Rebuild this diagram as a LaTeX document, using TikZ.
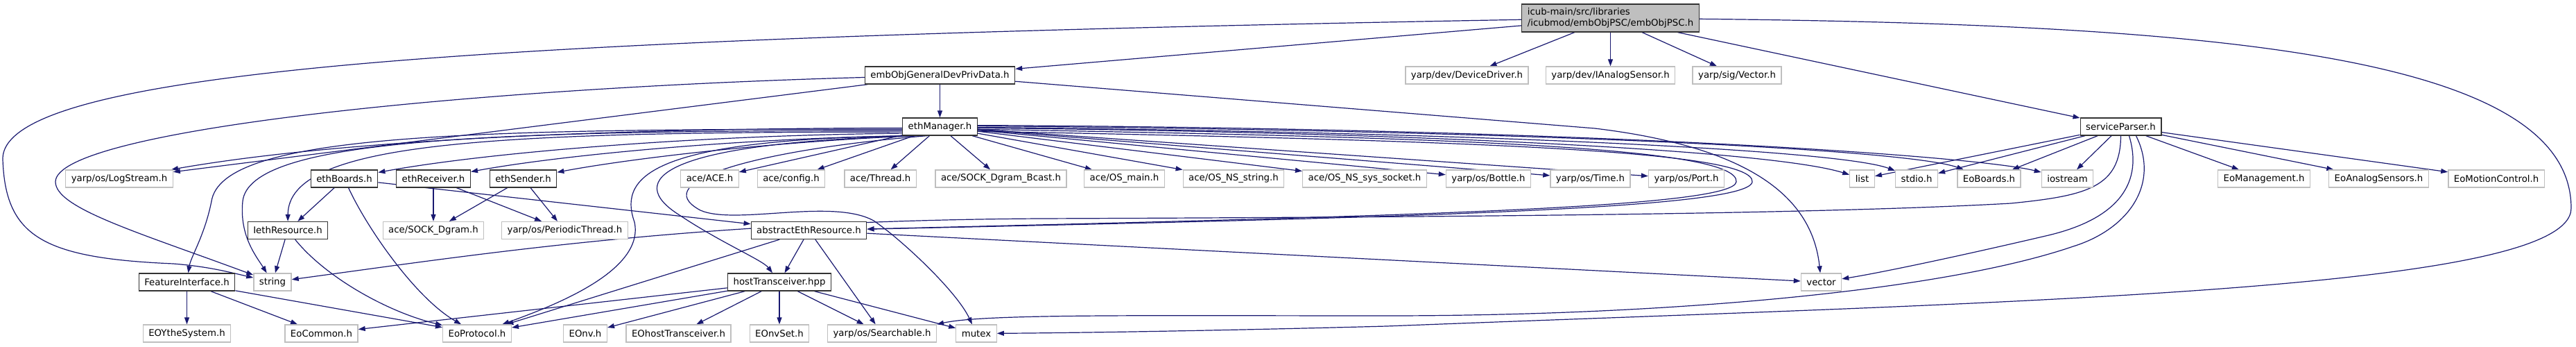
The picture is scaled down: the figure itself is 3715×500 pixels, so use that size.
\documentclass[tikz,border=0pt]{standalone}
\usepackage{fontspec}
\newfontfamily\dfont{DejaVu Sans}
\usetikzlibrary{arrows.meta,backgrounds,calc}
\definecolor{edgeblue}{HTML}{191970}
\definecolor{lgray}{HTML}{BFBFBF}
\definecolor{rootgray}{HTML}{BFBFBF}
\definecolor{docborder}{HTML}{333333}
\tikzset{
  basebox/.style={rectangle, line width=1.3pt, fill=white, minimum height=25pt,
    inner xsep=8pt, inner ysep=2pt, font=\dfont\fontsize{13.3}{15.5}\selectfont},
  doc/.style={basebox, draw=docborder},
  undoc/.style={basebox, draw=lgray},
  rootbox/.style={basebox, draw=docborder, fill=rootgray, align=left, minimum height=40pt},
  dep/.style={draw=edgeblue, line width=1.2pt, -{Triangle[length=10pt,width=7pt]}}
}
\begin{document}
\begin{tikzpicture}[x=1pt,y=-1pt]
\useasboundingbox (0,0) rectangle (3715,500);
% row 0
\node[rootbox] (root) at (2322.5,26) {icub-main/src/libraries\\/icubmod/embObjPSC/embObjPSC.h};
% row 1
\node[doc] (egd) at (1355.5,108.5) {embObjGeneralDevPrivData.h};
\node[undoc] (devdrv) at (2115.5,108.5) {yarp/dev/DeviceDriver.h};
\node[undoc] (ianalog) at (2322.5,108.5) {yarp/dev/IAnalogSensor.h};
\node[undoc] (sigvec) at (2505,108.5) {yarp/sig/Vector.h};
% row 2
\node[doc] (ethm) at (1355.5,182.5) {ethManager.h};
\node[doc] (sp) at (3058.5,182.5) {serviceParser.h};
% row 3
\node[undoc] (logstream) at (172,257.5) {yarp/os/LogStream.h};
\node[doc] (ethboards) at (496.5,257.5) {ethBoards.h};
\node[doc] (ethrecv) at (625,257.5) {ethReceiver.h};
\node[doc] (ethsend) at (754.5,257.5) {ethSender.h};
\node[undoc] (ace) at (1023.5,257.5) {ace/ACE.h};
\node[undoc] (config) at (1141,257.5) {ace/config.h};
\node[undoc] (thread) at (1269.5,257.5) {ace/Thread.h};
\node[undoc] (bcast) at (1443.5,257.5) {ace/SOCK\_Dgram\_Bcast.h};
\node[undoc] (osmain) at (1621.5,257.5) {ace/OS\_main.h};
\node[undoc] (osstring) at (1779,257.5) {ace/OS\_NS\_string.h};
\node[undoc] (ossocket) at (1968,257.5) {ace/OS\_NS\_sys\_socket.h};
\node[undoc] (bottle) at (2146.5,257.5) {yarp/os/Bottle.h};
\node[undoc] (time) at (2293.5,257.5) {yarp/os/Time.h};
\node[undoc] (port) at (2432,257.5) {yarp/os/Port.h};
\node[undoc] (list) at (2685.5,257.5) {list};
\node[undoc] (stdio) at (2764,257.5) {stdio.h};
\node[undoc] (eoboards) at (2868.5,257.5) {EoBoards.h};
\node[undoc] (iostream) at (2981.5,257.5) {iostream};
\node[undoc] (eomgmt) at (3265,257.5) {EoManagement.h};
\node[undoc] (eoanalog) at (3430.5,257.5) {EoAnalogSensors.h};
\node[undoc] (eomotion) at (3600,257.5) {EoMotionControl.h};
% row 4
\node[doc] (iethres) at (415,332) {IethResource.h};
\node[undoc] (sockdgram) at (625,332) {ace/SOCK\_Dgram.h};
\node[undoc] (periodic) at (814.5,332) {yarp/os/PeriodicThread.h};
\node[doc] (abseth) at (1166.5,332) {abstractEthResource.h};
% row 5
\node[doc] (featif) at (269.5,406.5) {FeatureInterface.h};
\node[undoc] (string) at (393,406.5) {string};
\node[doc] (hostt) at (1124,406.5) {hostTransceiver.hpp};
\node[undoc] (vector) at (2626.5,406.5) {vector};
% row 6
\node[undoc] (eoythe) at (269.5,480.5) {EOYtheSystem.h};
\node[undoc] (eocommon) at (463.5,480.5) {EoCommon.h};
\node[undoc] (eoproto) at (688,480.5) {EoProtocol.h};
\node[undoc] (eonv) at (844,480.5) {EOnv.h};
\node[undoc] (eohostt) at (978.5,480.5) {EOhostTransceiver.h};
\node[undoc] (eonvset) at (1124,480.5) {EOnvSet.h};
\node[undoc] (searchable) at (1272,480.5) {yarp/os/Searchable.h};
\node[undoc] (mutex) at (1408,480.5) {mutex};

\begin{pgfonlayer}{background}
% root
\draw[dep] (root) -- (egd);
\draw[dep] (root) -- (devdrv);
\draw[dep] (root) -- (ianalog);
\draw[dep] (root) -- (sigvec);
\draw[dep] (root) -- (sp);
\draw[dep] (root) .. controls (700,55) and (0,100) .. (4,230) .. controls (8,340) and (60,372) .. (250,380) .. controls (300,384) and (330,392) .. (string);
\draw[dep] (root) .. controls (3200,35) and (3708,80) .. (3708,300) .. controls (3708,420) and (2900,435) .. (2000,470) .. controls (1700,478) and (1500,480) .. (mutex);
% embObjGeneralDevPrivData
\draw[dep] (egd) -- (ethm);
\draw[dep] (egd) -- (logstream);
\draw[dep] (egd) .. controls (650,128) and (80,190) .. (80,262) .. controls (80,300) and (200,335) .. (string);
\draw[dep] (egd) -- (2300,185) .. controls (2550,215) and (2615,300) .. (vector);
% ethManager to the left
\draw[dep] (ethm.182) .. controls (900,185) and (500,200) .. (logstream);
\draw[dep] (ethm.190) .. controls (1000,195) and (700,220) .. (ethboards);
\draw[dep] (ethm.195) .. controls (1050,200) and (800,225) .. (ethrecv);
\draw[dep] (ethm.200) .. controls (1100,205) and (900,230) .. (ethsend);
\draw[dep] (ethm.188) .. controls (700,190) and (416,205) .. (iethres);
\draw[dep] (ethm.184) .. controls (650,185) and (320,195) .. (305,290) .. controls (295,340) and (275,370) .. (featif);
\draw[dep] (ethm.186) .. controls (700,188) and (360,200) .. (350,290) .. controls (345,340) and (370,370) .. (string);
\draw[dep] (ethm.200) .. controls (950,200) and (890,250) .. (915,320) .. controls (930,390) and (800,440) .. (eoproto);
\draw[dep] (ethm.205) .. controls (950,205) and (900,260) .. (980,310) .. controls (1040,350) and (1100,375) .. (hostt);
\draw[dep] (ethm.215) .. controls (1100,215) and (930,260) .. (1010,303) .. controls (1060,325) and (1200,285) .. (1260,318) .. controls (1300,345) and (1380,420) .. (mutex);
% ethManager to the row below
\draw[dep] (ethm) -- (ace);
\draw[dep] (ethm) -- (config);
\draw[dep] (ethm) -- (thread);
\draw[dep] (ethm) -- (bcast);
\draw[dep] (ethm) -- (osmain);
\draw[dep] (ethm) -- (osstring);
\draw[dep] (ethm) -- (ossocket);
\draw[dep] (ethm) -- (bottle);
\draw[dep] (ethm) -- (time);
\draw[dep] (ethm) -- (port);
\draw[dep] (ethm.-2) .. controls (2000,190) and (2550,215) .. (list);
\draw[dep] (ethm.-1) .. controls (2100,190) and (2650,215) .. (stdio);
\draw[dep] (ethm.1) .. controls (2200,188) and (2750,215) .. (eoboards);
\draw[dep] (ethm.2) .. controls (2300,185) and (2850,225) .. (iostream);
\draw[dep] (ethm.-4) .. controls (2100,198) and (2508,212) .. (2504,262) .. controls (2500,300) and (2000,312) .. (abseth);
\draw[dep] (ethm.-7) .. controls (2150,203) and (2530,218) .. (2527,262) .. controls (2523,302) and (2000,314) .. (abseth);
% serviceParser
\draw[dep] (sp) -- (list);
\draw[dep] (sp) -- (stdio);
\draw[dep] (sp) -- (eoboards);
\draw[dep] (sp) -- (iostream);
\draw[dep] (sp) -- (eomgmt);
\draw[dep] (sp) -- (eoanalog);
\draw[dep] (sp) -- (eomotion);
\draw[dep] (sp.south) .. controls (3058,270) and (3010,282) .. (2900,293) .. controls (2600,310) and (2000,313) .. (1500,315) .. controls (1000,318) and (700,365) .. (string);
\draw[dep] ($(sp.south)+(12,0)$) .. controls (3090,260) and (3060,315) .. (2950,340) .. controls (2800,375) and (2700,395) .. (vector);
\draw[dep] ($(sp.south)+(22,0)$) .. controls (3115,265) and (3070,330) .. (2990,355) .. controls (2800,420) and (2400,455) .. (2000,455) .. controls (1650,455) and (1420,452) .. (searchable.north east);
% ethBoards, ethReceiver, ethSender
\draw[dep] (ethboards) -- (iethres);
\draw[dep] (ethboards) .. controls (530,330) and (600,430) .. (eoproto);
\draw[dep] (ethboards) -- (abseth);
\draw[dep] (ethrecv) -- (sockdgram);
\draw[dep] (ethrecv) -- (periodic);
\draw[dep] (ethsend) -- (sockdgram);
\draw[dep] (ethsend) -- (periodic);
% IethResource
\draw[dep] (iethres) -- (string);
\draw[dep] (iethres) .. controls (470,400) and (560,450) .. (eoproto);
% abstractEthResource
\draw[dep] (abseth) -- (hostt);
\draw[dep] (abseth) -- (searchable);
\draw[dep] (abseth) -- (vector);
\draw[dep] (abseth) -- (eoproto);
% FeatureInterface
\draw[dep] (featif) -- (eoythe);
\draw[dep] (featif) -- (eocommon);
\draw[dep] (featif) -- (eoproto);
% hostTransceiver
\draw[dep] (hostt) -- (eocommon);
\draw[dep] (hostt) -- (eoproto);
\draw[dep] (hostt) -- (eonv);
\draw[dep] (hostt) -- (eohostt);
\draw[dep] (hostt) -- (eonvset);
\draw[dep] (hostt) -- (searchable);
\draw[dep] (hostt) -- (mutex);
\end{pgfonlayer}
\end{tikzpicture}
\end{document}
